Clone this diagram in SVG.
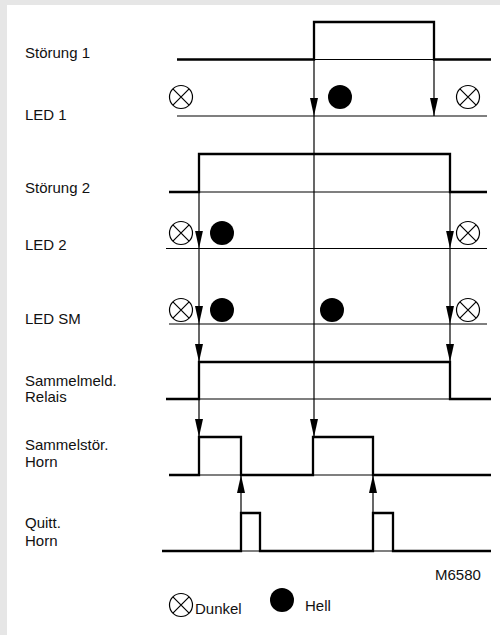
<svg xmlns="http://www.w3.org/2000/svg" width="500" height="635" viewBox="0 0 500 635">
<style>
text{font-family:"Liberation Sans",Arial,sans-serif;font-size:15px;fill:#111}
.thick{fill:none;stroke:#000;stroke-width:2.3;stroke-linejoin:miter}
.thin{fill:none;stroke:#000;stroke-width:1.2}
.conn{fill:none;stroke:#000;stroke-width:1.2}
.dark{fill:#fff;stroke:#000;stroke-width:1.2}
.lit{fill:#000}
</style>
<defs>
<marker id="ah" viewBox="0 0 18 8" refX="18" refY="4" markerWidth="18" markerHeight="8" markerUnits="userSpaceOnUse" orient="auto"><path d="M0,0 L18,4 L0,8 z" fill="#000"/></marker>
<g id="dk"><circle r="11.5" class="dark"/><path d="M-8.1,-8.1 L8.1,8.1 M-8.1,8.1 L8.1,-8.1" stroke="#000" stroke-width="1.2"/></g>
</defs>
<rect width="500" height="635" fill="#e6e6e6"/>
<rect x="7" y="5" width="493" height="630" fill="#fff"/>

<g id="stoerung1">
<text x="25" y="58">Störung 1</text>
<path class="thin" d="M314,59.5 H434"/>
<path class="thick" d="M177,59.5 H314 V22 H434 V59.5 H491"/>
</g>
<g id="led1">
<text x="25" y="120">LED 1</text>
<path class="thin" d="M177,116 H487"/>
<use href="#dk" x="181" y="97"/>
<circle class="lit" cx="340" cy="97" r="12"/>
<use href="#dk" x="468" y="97"/>
</g>
<g id="stoerung2">
<text x="25" y="193">Störung 2</text>
<path class="thin" d="M199,192 H450"/>
<path class="thick" d="M169,192 H199 V154 H450 V192 H487"/>
</g>
<g id="led2">
<text x="25" y="250">LED 2</text>
<path class="thin" d="M166,248.5 H487"/>
<use href="#dk" x="181" y="233"/>
<circle class="lit" cx="222" cy="233" r="12"/>
<use href="#dk" x="468" y="233"/>
</g>
<g id="ledsm">
<text x="25" y="324">LED SM</text>
<path class="thin" d="M169,324 H487"/>
<use href="#dk" x="181" y="310"/>
<circle class="lit" cx="222" cy="310" r="12"/>
<circle class="lit" cx="332" cy="310" r="12"/>
<use href="#dk" x="468" y="310"/>
</g>
<g id="relais">
<text x="25" y="386">Sammelmeld.</text>
<text x="25" y="402">Relais</text>
<path class="thin" d="M199,399 H450"/>
<path class="thick" d="M166,399 H199 V362 H450 V399 H491"/>
</g>
<g id="horn">
<text x="25" y="450">Sammelstör.</text>
<text x="25" y="467">Horn</text>
<path class="thin" d="M199,475 H241 M313,475 H373"/>
<path class="thick" d="M169,475 H199 V437 H241 V475 H313 V437 H373 V475 H491"/>
</g>
<g id="quitt">
<text x="25" y="528">Quitt.</text>
<text x="25" y="546">Horn</text>
<path class="thin" d="M241,551 H260 M373,551 H393"/>
<path class="thick" d="M162,551 H241 V513 H260 V551 H373 V513 H393 V551 H491"/>
</g>
<g id="connectors">
<path class="conn" d="M314,60 V116" marker-end="url(#ah)"/>
<path class="conn" d="M314,116 V437" marker-end="url(#ah)"/>
<path class="conn" d="M434,60 V116" marker-end="url(#ah)"/>
<path class="conn" d="M199,192 V248.5" marker-end="url(#ah)"/>
<path class="conn" d="M199,248.5 V324" marker-end="url(#ah)"/>
<path class="conn" d="M199,324 V362" marker-end="url(#ah)"/>
<path class="conn" d="M199,399 V437" marker-end="url(#ah)"/>
<path class="conn" d="M450,192 V248.5" marker-end="url(#ah)"/>
<path class="conn" d="M450,248.5 V324" marker-end="url(#ah)"/>
<path class="conn" d="M450,324 V362" marker-end="url(#ah)"/>
<path class="conn" d="M241,513 V475" marker-end="url(#ah)"/>
<path class="conn" d="M373,513 V475" marker-end="url(#ah)"/>
</g>
<g id="legend">
<text x="435" y="580">M6580</text>
<use href="#dk" x="181" y="605"/>
<text x="195" y="614">Dunkel</text>
<circle class="lit" cx="282" cy="600" r="12"/>
<text x="305" y="611">Hell</text>
</g>
</svg>
